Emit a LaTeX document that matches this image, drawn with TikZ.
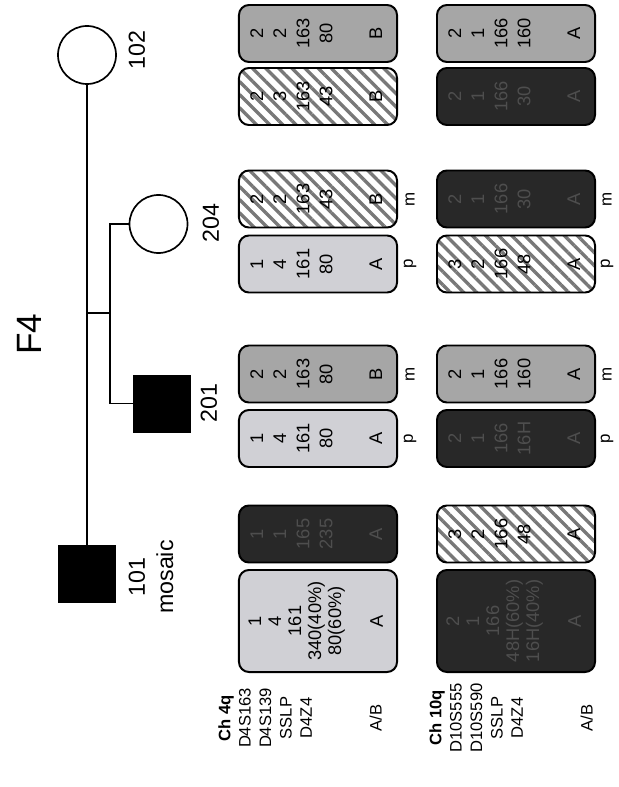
\documentclass[tikz,border=0pt]{standalone}
\usepackage{fontspec}
\setmainfont{Liberation Sans}
\usetikzlibrary{patterns.meta}

\definecolor{boxlight}{RGB}{208,208,213}
\definecolor{boxmid}{RGB}{166,166,166}
\definecolor{boxdark}{RGB}{40,40,40}
\definecolor{darktext}{RGB}{78,78,78}
\definecolor{hatchgray}{RGB}{120,120,120}

% haplotype column, turned like the rest of the figure
\newcommand{\hap}[1]{\rotatebox{90}{\begin{tabular}{@{}c@{}}#1\end{tabular}}}

\tikzset{
  box/.style={draw, line width=1.4pt, rounded corners=0.25cm, minimum width=3.95cm,
    minimum height=1.425cm, inner sep=0pt, font=\fontsize{13}{16.4}\selectfont},
  tight/.style={font=\fontsize{13}{14.2}\selectfont, minimum height=2.55cm},
  lightbox/.style={box, fill=boxlight},
  midbox/.style={box, fill=boxmid},
  darkbox/.style={box, fill=boxdark, text=darktext},
  hatchbox/.style={box, pattern={Lines[angle=-45, distance=6.6pt, line width=2.4pt]},
    pattern color=hatchgray},
  male/.style={draw, fill=black, minimum size=1.425cm, inner sep=0pt},
  female/.style={circle, draw, line width=1.2pt, minimum size=1.45cm, inner sep=0pt},
  who/.style={rotate=90, align=center, font=\fontsize{16.5}{20}\selectfont},
  key/.style={rotate=90, align=center, font=\fontsize{11.8}{14.5}\selectfont},
  tag/.style={rotate=90, font=\fontsize{12}{14}\selectfont}
}

\begin{document}
\begin{tikzpicture}[x=0.025cm, y=-0.025cm]
    \useasboundingbox (0,0) rectangle (618,787);

    % Title
    \node[rotate=90, font=\fontsize{25}{30}\selectfont] (title) at (29,334) {F4};

    % Pedigree
    \node[female] (i102) at (87,55) {};
    \node[male] (i101) at (87,573.5) {};
    \node[female] (i204) at (158.5,224) {};
    \node[male] (i201) at (161.5,403.5) {};
    \coordinate (mar) at (87,313);
    \coordinate (sib) at (110,313);
    \draw[line width=1.2pt] (i102.south) -- (i101.north);
    \draw[line width=1.2pt] (mar) -- (sib);
    \draw[line width=1.2pt] (i204.west) -| (sib);
    \draw[line width=1.2pt] (i201.west) -| (sib);

    % Individual numbers
    \node[who] (n102) at (137,50) {102};
    \node[who] (n204) at (211,223) {204};
    \node[who] (n201) at (209,403) {201};
    \node[who] (n101) at (151,577) {101\\mosaic};

    % Ch 4q haplotypes
    \node[midbox] (q4a102) at (318,33.5) {\hap{2\\2\\163\\80\\[19pt]B}};
    \node[hatchbox] (q4b102) at (318,96.5) {\hap{2\\3\\163\\43\\[19pt]B}};
    \node[hatchbox] (q4m204) at (318,199) {\hap{2\\2\\163\\43\\[19pt]B}};
    \node[lightbox] (q4p204) at (318,264) {\hap{1\\4\\161\\80\\[19pt]A}};
    \node[midbox] (q4m201) at (318,374) {\hap{2\\2\\163\\80\\[19pt]B}};
    \node[lightbox] (q4p201) at (318,438.5) {\hap{1\\4\\161\\80\\[19pt]A}};
    \node[darkbox] (q4a101) at (318,534) {\hap{1\\1\\165\\235\\[19pt]A}};
    \node[lightbox, tight] (q4b101) at (318,621) {\hap{1\\4\\161\\340(40\%)\\80(60\%)\\[15.5pt]A}};

    % Ch 10q haplotypes
    \node[midbox] (q10a102) at (516,33.5) {\hap{2\\1\\166\\160\\[19pt]A}};
    \node[darkbox] (q10b102) at (516,96.5) {\hap{2\\1\\166\\30\\[19pt]A}};
    \node[darkbox] (q10m204) at (516,199) {\hap{2\\1\\166\\30\\[19pt]A}};
    \node[hatchbox] (q10p204) at (516,264) {\hap{3\\2\\166\\48\\[19pt]A}};
    \node[midbox] (q10m201) at (516,374) {\hap{2\\1\\166\\160\\[19pt]A}};
    \node[darkbox] (q10p201) at (516,438.5) {\hap{2\\1\\166\\16H\\[19pt]A}};
    \node[hatchbox] (q10a101) at (516,534) {\hap{3\\2\\166\\48\\[19pt]A}};
    \node[darkbox, tight] (q10b101) at (516,621) {\hap{2\\1\\166\\48H(60\%)\\16H(40\%)\\[15.5pt]A}};

    % Parental origin
    \node[tag] (t4m204) at (410,199) {m};
    \node[tag] (t4p204) at (410,264) {p};
    \node[tag] (t4m201) at (410,374) {m};
    \node[tag] (t4p201) at (410,438.5) {p};
    \node[tag] (t10m204) at (607,199) {m};
    \node[tag] (t10p204) at (607,264) {p};
    \node[tag] (t10m201) at (607,374) {m};
    \node[tag] (t10p201) at (607,438.5) {p};

    % Marker keys
    \node[key] (key4) at (300,718) {\textbf{Ch 4q}\\D4S163\\D4S139\\SSLP\\D4Z4\\[35pt]A/B};
    \node[key] (key10) at (511,718) {\textbf{Ch 10q}\\D10S555\\D10S590\\SSLP\\D4Z4\\[35pt]A/B};
\end{tikzpicture}
\end{document}
